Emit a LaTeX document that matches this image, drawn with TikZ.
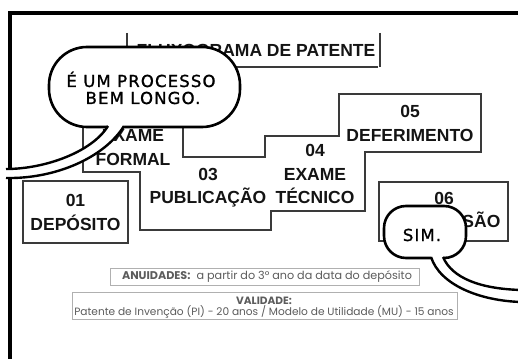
\documentclass[tikz,border=0pt]{standalone}
\usepackage{fontspec}
\setmainfont{Liberation Sans}
\newfontfamily\comicfont{DejaVu Sans}[LetterSpace=7, FakeBold=1.2]
\newfontfamily\notefont{Poppins}
\usetikzlibrary{positioning}

\definecolor{boxgray}{HTML}{3A3A3A}
\definecolor{notegray}{HTML}{5C5C5C}
\definecolor{noteline}{HTML}{B0B0B0}

\tikzset{
  boxline/.style={draw=boxgray, line width=1.3pt},
  steptxt/.style={font=\fontsize{17.5}{20}\selectfont\bfseries, text=black!92, anchor=base, inner sep=0pt},
  notebox/.style={draw=noteline, line width=0.9pt},
  notetxt/.style={font=\notefont\fontsize{10.6}{12}\selectfont, text=notegray, inner sep=0pt},
  balao/.style={draw=black, fill=white, line width=2.6pt},
  rabo/.style={draw=black, line width=2.4pt},
  falatxt/.style={font=\comicfont\fontsize{16.5}{18}\selectfont, anchor=base, inner sep=0pt}
}

\begin{document}
\begin{tikzpicture}[x=1pt, y=-1pt]
\fill[white] (0,0) rectangle (518,358);
\useasboundingbox (0,0) rectangle (518,358);

% panel frame
\draw[line width=4pt] (10,362) -- (10,13) -- (522,13);

% title
\draw[boxline, line width=1.1pt] (127,33) -- (127,67) -- (378,67);
\draw[boxline, line width=1.1pt] (380,33) -- (380,67);
\node[steptxt] (titulo) at (256,57) {FLUXOGRAMA DE PATENTE};

% staircase of steps 02 to 05
\draw[boxline] (83,115) -- (83,172) -- (140,172) -- (140,230) -- (271,230) -- (271,211)
  -- (365,211) -- (365,152) -- (481,152) -- (481,94) -- (339,94) -- (339,136)
  -- (265,136) -- (265,157) -- (183,157) -- (183,115) -- cycle;
\draw[boxline] (23,181) rectangle (128,243);
\draw[boxline] (379,182) rectangle (508,241);

\node[steptxt] (n01) at (75.5,206) {01};
\node[steptxt] (deposito) at (75.5,230) {DEPÓSITO};
\node[steptxt] (exameF) at (133,142) {EXAME};
\node[steptxt] (formal) at (133,165) {FORMAL};
\node[steptxt] (n03) at (208,180) {03};
\node[steptxt] (publicacao) at (208,203) {PUBLICAÇÃO};
\node[steptxt] (n04) at (315,157) {04};
\node[steptxt] (exameT) at (315,180) {EXAME};
\node[steptxt] (tecnico) at (315,203) {TÉCNICO};
\node[steptxt] (n05) at (410,118) {05};
\node[steptxt] (deferimento) at (410,142) {DEFERIMENTO};
\node[steptxt] (n06) at (444,204) {06};
\node[steptxt] (concessao) at (444,227) {CONCESSÃO};

% notes
\draw[notebox] (110,268) rectangle (419,285);
\node[notetxt, font=\notefont\fontsize{11.2}{12}\selectfont] (anuidades) at (267,276.5) {\textbf{ANUIDADES:}~ a partir do 3° ano da data do depósito};
\draw[notebox] (72,292) rectangle (457,319);
\node[notetxt] (validade) at (264,300.5) {\textbf{VALIDADE:}};
\node[notetxt] (prazos) at (264,312) {Patente de Invenção (PI) - 20 anos / Modelo de Utilidade (MU) - 15 anos};

% balloon 1
\draw[balao, rounded corners=38pt] (49,47) rectangle (240,127);
\fill[white] (108,122) -- (108,127) .. controls (92,152) and (45,169) .. (6,169)
  -- (6,178) .. controls (55,179) and (104,158) .. (124,127) -- (124,122) -- cycle;
\draw[rabo] (108,126) .. controls (92,152) and (45,169) .. (6,169);
\draw[rabo] (124,126) .. controls (104,158) and (55,179) .. (6,178);
\node[falatxt] (fala1) at (141,87) {É UM PROCESSO};
\node[falatxt] (fala2) at (143,104) {BEM LONGO.};

% balloon 2
\draw[balao, rounded corners=22pt] (384,206) rectangle (466,258);
\fill[white] (431,253) -- (431,257) .. controls (440,285) and (480,301) .. (522,302)
  -- (522,290) .. controls (480,289) and (452,278) .. (443,257) -- (443,253) -- cycle;
\draw[rabo] (431,257) .. controls (440,285) and (480,301) .. (522,302);
\draw[rabo] (443,257) .. controls (452,278) and (480,289) .. (522,290);
\node[falatxt] (fala3) at (422,241) {SIM.};
\end{tikzpicture}
\end{document}
